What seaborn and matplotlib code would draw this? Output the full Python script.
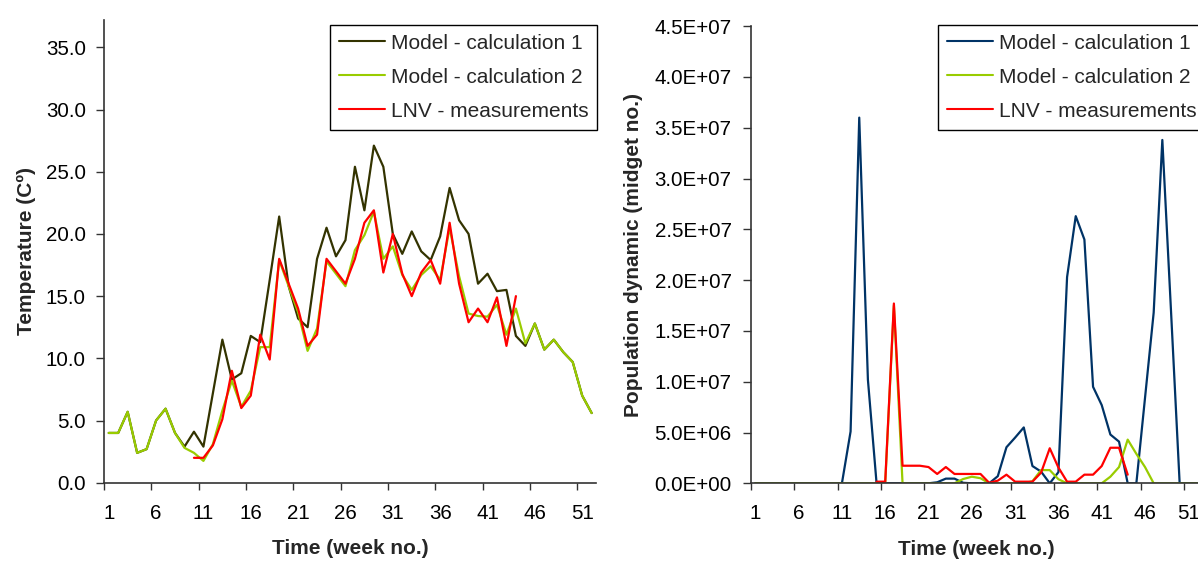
import numpy as np
import pandas as pd
import matplotlib
matplotlib.use("Agg")
import matplotlib.pyplot as plt
import seaborn as sns
from matplotlib.ticker import FuncFormatter, FixedLocator

weeks = list(range(1, 53))
series_names = ["Model - calculation 1", "Model - calculation 2", "LNV - measurements"]
xtick_labels = [1, 6, 11, 16, 21, 26, 31, 36, 41, 46, 51]

nan = np.nan
temp_model1 = [4.0, 4.0, 5.7, 2.4, 2.7, 5.0, 5.95, 4.0, 2.9, 4.1,
               2.9, 7.2, 11.5, 8.3, 8.8, 11.8, 11.3, 16.3, 21.4, 15.8,
               13.2, 12.5, 18.0, 20.5, 18.2, 19.5, 25.4, 21.9, 27.1, 25.4,
               20.0, 18.4, 20.2, 18.6, 17.9, 19.8, 23.7, 21.1, 20.0, 16.0,
               16.8, 15.4, 15.5, 11.8, 11.0, 12.8, 10.7, 11.5, 10.5, 9.7,
               7.0, 5.6]
temp_model2 = [4.0, 4.0, 5.7, 2.4, 2.7, 5.0, 5.95, 4.0, 2.8, 2.4,
               1.75, 3.1, 5.8, 8.2, 6.1, 7.4, 10.9, 10.9, 17.9, 15.8,
               13.7, 10.6, 12.4, 17.8, 16.8, 15.8, 18.7, 19.9, 21.8, 18.0,
               19.0, 16.7, 15.5, 16.7, 17.4, 16.3, 20.5, 16.6, 13.6, 13.4,
               13.35, 14.3, 11.9, 14.0, 11.2, 12.8, 10.7, 11.5, 10.5, 9.7,
               7.0, 5.6]
temp_lnv = [nan, nan, nan, nan, nan, nan, nan, nan, nan, 2.0,
            2.0, 3.0, 5.1, 9.0, 6.0, 7.0, 11.9, 9.9, 18.0, 16.0,
            14.0, 11.0, 11.9, 18.0, 17.0, 16.0, 18.0, 20.9, 21.9, 16.9,
            20.0, 16.8, 15.0, 16.9, 17.9, 16.0, 20.9, 16.0, 12.9, 14.0,
            12.9, 14.9, 11.0, 15.0, nan, nan, nan, nan, nan, nan,
            nan, nan]

pop_model1 = [0, 0, 0, 0, 0, 0, 0, 0, 0, 0,
              0, 5.1e6, 3.6e7, 1.02e7, 0, 0, 0, 0, 0, 0,
              0, 0.1e6, 0.46e6, 0.46e6, 0.05e6, 0, 0, 0, 0.7e6, 3.55e6,
              4.5e6, 5.5e6, 1.7e6, 1.15e6, 0, 1.1e6, 2.03e7, 2.63e7, 2.4e7, 9.5e6,
              7.7e6, 4.8e6, 4.1e6, 0, 0, 8.4e6, 1.68e7, 3.38e7, 1.7e7, 0,
              0, 0]
pop_model2 = [0, 0, 0, 0, 0, 0, 0, 0, 0, 0,
              0, 0, 0, 0, 0, 0, 1.75e7, 0, 0, 0,
              0, 0, 0, 0, 0.42e6, 0.65e6, 0.5e6, 0, 0, 0,
              0, 0, 0.2e6, 1.3e6, 1.3e6, 0.4e6, 0, 0, 0, 0,
              0, 0.65e6, 1.6e6, 4.3e6, 2.9e6, 1.6e6, 0, 0, 0, 0,
              0, 0]
pop_lnv = [nan, nan, nan, nan, nan, nan, nan, nan, nan, nan,
           nan, nan, nan, nan, 0.16e6, 0.16e6, 1.77e7, 1.73e6, 1.73e6, 1.73e6,
           1.6e6, 0.92e6, 1.6e6, 0.92e6, 0.92e6, 0.92e6, 0.92e6, 0.05e6, 0.26e6, 0.85e6,
           0.16e6, 0.16e6, 0.16e6, 1.05e6, 3.45e6, 1.55e6, 0.16e6, 0.16e6, 0.85e6, 0.85e6,
           1.7e6, 3.5e6, 3.5e6, 0.85e6, nan, nan, nan, nan, nan, nan,
           nan, nan]

sns.set_theme(style="ticks")
plt.rcParams["font.family"] = ["Liberation Sans", "DejaVu Sans"]

W, H = 1198, 563
fig = plt.figure(figsize=(W / 100, H / 100), dpi=100)
fig.patch.set_facecolor("white")


def long_df(a, b, c):
    frames = []
    for name, vals in zip(series_names, [a, b, c]):
        frames.append(pd.DataFrame({"week": weeks, "value": vals, "series": name}))
    return pd.concat(frames, ignore_index=True)


def style_axes(ax, ylabel, ylim, yticks, yfmt, ylabelpad, ytickpad):
    ax.set_xlim(0.5, 52.5)
    ax.set_ylim(*ylim)
    ax.set_yticks(yticks)
    ax.yaxis.set_major_formatter(FuncFormatter(yfmt))
    ax.xaxis.set_major_locator(FixedLocator(xtick_labels))
    ax.set_xticklabels([str(v) for v in xtick_labels])
    ax.xaxis.set_minor_locator(FixedLocator([0.5 + 5 * i for i in range(11)]))
    ax.tick_params(axis="x", which="major", length=0, pad=15, labelsize=14.8, colors="black")
    ax.tick_params(axis="x", which="minor", length=5, width=1.0, direction="out", color="#333333")
    ax.tick_params(axis="y", which="major", length=6, width=1.0, direction="out",
                   pad=ytickpad, labelsize=14.8, color="#333333", labelcolor="black")
    for s in ["top", "right"]:
        ax.spines[s].set_visible(False)
    for s in ["left", "bottom"]:
        ax.spines[s].set_color("#333333")
        ax.spines[s].set_linewidth(1.2)
    ax.set_xlabel("Time (week no.)", fontsize=15, fontweight="bold", labelpad=12)
    ax.set_ylabel(ylabel, fontsize=15, fontweight="bold", labelpad=ylabelpad)
    ax.set_facecolor("white")


def add_legend(ax, x0):
    handles, labels = ax.get_legend_handles_labels()
    leg = ax.legend(handles, labels, loc="upper left",
                    bbox_to_anchor=(x0 / W, 1 - 25 / H), bbox_transform=fig.transFigure,
                    borderaxespad=0, frameon=True, fancybox=False, fontsize=15,
                    handlelength=2.2, handletextpad=0.3, labelspacing=0.72,
                    borderpad=0.42, title=None)
    leg.get_frame().set_edgecolor("black")
    leg.get_frame().set_linewidth(1.0)
    leg.get_frame().set_facecolor("white")
    leg.get_frame().set_alpha(1)
    for line in leg.get_lines():
        line.set_linewidth(1.5)
    return leg


# Left chart: temperature
ax1 = fig.add_axes([104 / W, (H - 482.7) / H, 492.4 / W, (482.7 - 20) / H])
df1 = long_df(temp_model1, temp_model2, temp_lnv)
sns.lineplot(data=df1, x="week", y="value", hue="series", hue_order=series_names,
             palette=["#333300", "#99CC00", "#FF0000"], linewidth=1.6, ax=ax1,
             estimator=None, sort=False)
style_axes(ax1, "Temperature (Cº)", (0, 37.2), np.arange(0, 35.1, 5),
           lambda v, p: f"{v:.1f}", 7, 7)
add_legend(ax1, 330)

# Right chart: population dynamic
ax2 = fig.add_axes([751 / W, (H - 483.3) / H, 450.3 / W, (483.3 - 26.2) / H])
df2 = long_df(pop_model1, pop_model2, pop_lnv)
sns.lineplot(data=df2, x="week", y="value", hue="series", hue_order=series_names,
             palette=["#003366", "#99CC00", "#FF0000"], linewidth=1.6, ax=ax2,
             estimator=None, sort=False)
style_axes(ax2, "Population dynamic (midget no.)", (0, 4.5e7), np.arange(0, 4.51e7, 5e6),
           lambda v, p: f"{v:.1E}", 8, 8)
add_legend(ax2, 938)

fig.savefig("out.png", dpi=100, facecolor="white")
